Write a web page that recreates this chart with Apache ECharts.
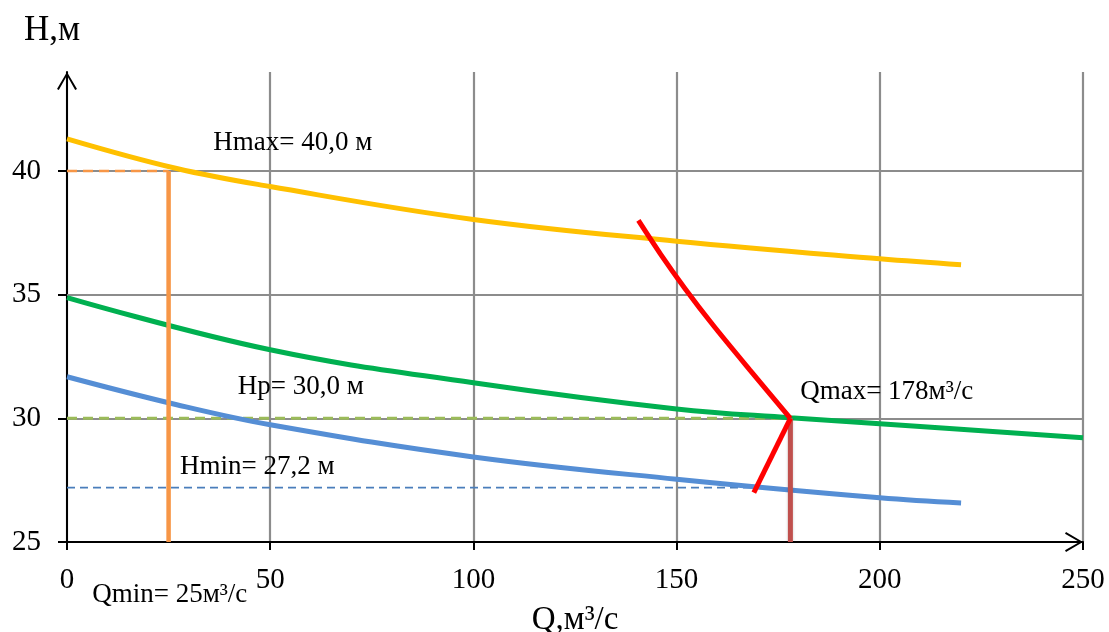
<!DOCTYPE html>
<html>
<head>
<meta charset="utf-8">
<script src="https://cdn.jsdelivr.net/npm/echarts@6/dist/echarts.min.js"></script>
<style>
  html, body { margin: 0; padding: 0; background: #fff; }
  #chart { width: 1109px; height: 632px; }
</style>
</head>
<body>
<div id="chart"></div>
<script>
// Axis ticks
const qTicks = [0, 50, 100, 150, 200, 250];
const hTicks = [25, 30, 35, 40];

// Pump head curves H(Q) at max, design and min operating points
const curveHmax = [[0, 41.3], [27, 40.1], [50, 39.37], [100, 38.04], [150, 37.16], [200, 36.45], [220, 36.21]];
const curveHp   = [[0, 34.88], [50, 32.77], [100, 31.44], [150, 30.38], [178, 30.02], [200, 29.78], [250, 29.21]];
const curveHmin = [[0, 31.68], [27, 30.55], [50, 29.74], [100, 28.44], [150, 27.54], [200, 26.79], [220, 26.58]];

// System characteristic branches meeting at Qmax
const systemUpper = [[140.6, 38.0], [146, 36.65], [152, 35.26], [159, 33.76], [168, 31.96], [178, 30.0]];
const systemLower = [[169, 27.0], [178, 30.0]];

// Key operating values
const Hmax = 40.0;
const Hp = 30.0;
const Hmin = 27.2;
const Qmin = 25;
const Qmax = 178;
const QminLineEnd = 169;

const fmt = v => v.toFixed(1).replace('.', ',');
const serif = 'Liberation Serif';
const gridColor = '#8c8c8c';
const ink = '#000';

const chart = echarts.init(document.getElementById('chart'), null, { renderer: 'canvas' });

// Open chevron arrow for the axis ends (tip at the top of the path)
const chevron = 'path://M10,0 L20,17 L18.2,18 L10,3.6 L1.8,18 L0,17 Z';

function line(data, color, width, extra) {
  return Object.assign({
    type: 'line',
    data: data,
    showSymbol: false,
    symbol: 'none',
    silent: true,
    animation: false,
    lineStyle: { color: color, width: width },
    z: 3
  }, extra || {});
}

const notes = [
  { value: [36, 41.15], text: 'Hmax= ' + fmt(Hmax) + ' м' },
  { value: [42, 31.28], text: 'Hp= ' + fmt(Hp) + ' м' },
  { value: [27.8, 28.04], text: 'Hmin= ' + fmt(Hmin) + ' м' },
  { value: [180.4, 31.07], text: 'Qmax= ' + Qmax + 'м³/с' },
  { value: [6.2, 22.85], text: 'Qmin= ' + Qmin + 'м³/с' }
];

const option = {
  animation: false,
  backgroundColor: '#ffffff',
  grid: { left: 67, right: 26, top: 72, bottom: 90, containLabel: false, outerBoundsMode: 'none' },
  xAxis: {
    type: 'value',
    min: qTicks[0],
    max: qTicks[qTicks.length - 1],
    interval: 50,
    name: 'Q,м³/с',
    nameLocation: 'middle',
    nameGap: 62,
    nameTextStyle: { fontFamily: serif, fontSize: 33, color: ink },
    axisLine: {
      show: true,
      lineStyle: { color: '#000', width: 2 },
      symbol: ['none', chevron],
      symbolSize: [20, 19],
      symbolOffset: [0, -9]
    },
    axisTick: { show: true, length: 8, lineStyle: { color: '#000', width: 2 } },
    axisLabel: { fontFamily: serif, fontSize: 29, color: ink, margin: 24 },
    splitLine: { show: true, lineStyle: { color: gridColor, width: 2.2 } }
  },
  yAxis: {
    type: 'value',
    min: hTicks[0],
    max: 44,
    interval: 5,
    name: 'H,м',
    nameLocation: 'end',
    nameGap: 24,
    nameTextStyle: { fontFamily: serif, fontSize: 35, color: ink, align: 'center', padding: [0, 30, 0, 0] },
    axisLine: {
      show: true,
      lineStyle: { color: '#000', width: 2 },
      symbol: ['none', chevron],
      symbolSize: [20, 19],
      symbolOffset: [0, -9]
    },
    axisTick: { show: true, length: 9, lineStyle: { color: '#000', width: 2 }, customValues: hTicks },
    axisLabel: { fontFamily: serif, fontSize: 29, color: ink, margin: 26, customValues: hTicks },
    splitLine: { show: false }
  },
  series: [
    // Horizontal grid lines
    {
      type: 'line',
      data: [],
      silent: true,
      z: 1,
      markLine: {
        silent: true,
        z: 1,
        symbol: 'none',
        animation: false,
        label: { show: false },
        lineStyle: { color: gridColor, width: 2.2, type: 'solid' },
        data: hTicks.slice(1).map(v => ({ yAxis: v }))
      }
    },
    // Reference levels
    line([[0, Hmax], [Qmin, Hmax]], '#f79646', 2.5, { lineStyle: { color: '#f79646', width: 2.5, type: [10, 6] }, z: 2 }),
    line([[0, Hp], [Qmax, Hp]], '#9bbb59', 3, { lineStyle: { color: '#9bbb59', width: 3, type: [10, 6] }, z: 2 }),
    line([[0, Hmin], [QminLineEnd, Hmin]], '#4a7ebb', 1.6, { lineStyle: { color: '#4a7ebb', width: 1.6, type: [8, 5] }, z: 2 }),
    // Pump curves
    line(curveHmax, '#ffc000', 5, { smooth: 0.4 }),
    line(curveHp, '#00b050', 5, { smooth: 0.4 }),
    line(curveHmin, '#558ed5', 5, { smooth: 0.4 }),
    // Qmin and Qmax verticals
    line([[Qmin, hTicks[0]], [Qmin, Hmax]], '#f79646', 4.5, { z: 4 }),
    line([[Qmax, hTicks[0]], [Qmax, Hp]], '#c0504d', 5, {
      z: 4,
      lineStyle: { color: '#c0504d', width: 5, shadowBlur: 3, shadowColor: 'rgba(0,0,0,0.2)' }
    }),
    // System characteristic
    line(systemUpper, '#ff0000', 5, { smooth: 0.3, z: 5 }),
    line(systemLower, '#ff0000', 5, { z: 5 }),
    // Annotations
    {
      type: 'scatter',
      symbolSize: 0,
      silent: true,
      clip: false,
      z: 6,
      itemStyle: { opacity: 1 },
      data: notes.map(n => ({
        value: n.value,
        label: {
          show: true,
          position: 'right',
          distance: 0,
          formatter: n.text,
          fontFamily: serif,
          fontSize: 27,
          color: ink,
          opacity: 1,
          textBorderWidth: 0
        }
      }))
    }
  ]
};

chart.setOption(option);
</script>
</body>
</html>
